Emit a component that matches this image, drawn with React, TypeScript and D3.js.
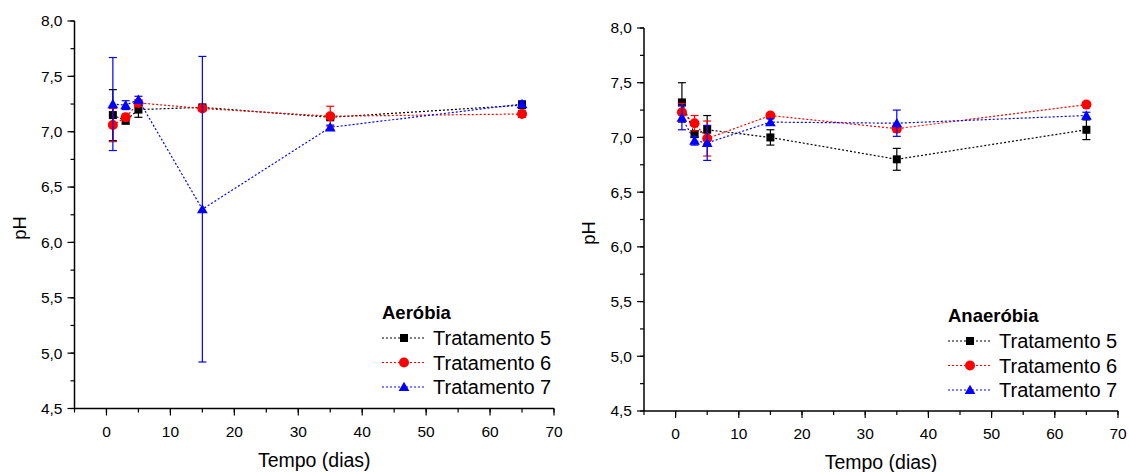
import React from "react";
import * as d3 from "d3";

// Sampling days (shared by both panels)
const DAYS = [1, 3, 5, 15, 35, 65];

// Aeróbia: mean pH and error per treatment
const AER_T5 = [7.15, 7.1, 7.2, 7.22, 7.13, 7.24];
const AER_T5_ERR = [0.23, 0.03, 0.07, 0.02, 0.02, 0.03];
const AER_T6 = [7.06, 7.13, 7.26, 7.21, 7.14, 7.16];
const AER_T6_ERR = [0.15, 0.03, 0.03, 0.02, 0.09, 0.03];
const AER_T7 = [7.25, 7.24, 7.29, 6.3, 7.04, 7.25];
const AER_T7_ERR = [0.42, 0.04, 0.03, 1.38, 0.02, 0.03];

// Anaeróbia: mean pH and error per treatment
const ANA_T5 = [7.32, 7.03, 7.07, 7.0, 6.8, 7.07];
const ANA_T5_ERR = [0.18, 0.03, 0.13, 0.07, 0.1, 0.09];
const ANA_T6 = [7.23, 7.13, 6.99, 7.2, 7.08, 7.3];
const ANA_T6_ERR = [0.08, 0.07, 0.16, 0.02, 0.03, 0.02];
const ANA_T7 = [7.18, 6.97, 6.95, 7.14, 7.13, 7.2];
const ANA_T7_ERR = [0.11, 0.04, 0.16, 0.03, 0.12, 0.03];

const SERIES_NAMES = ["Tratamento 5", "Tratamento 6", "Tratamento 7"];
const SERIES_COLORS = ["#000000", "#ff0000", "#0000ff"];
const SERIES_SHAPES = ["square", "circle", "triangle"];

const X_TICKS = [0, 10, 20, 30, 40, 50, 60, 70];
const X_MINOR = d3.range(-5, 71, 5);
const Y_TICKS = [4.5, 5.0, 5.5, 6.0, 6.5, 7.0, 7.5, 8.0];
const Y_MINOR = d3.range(4.5, 8.01, 0.25);

const FONT = "Arial, 'Liberation Sans', sans-serif";
const fmt = (v: number) => v.toFixed(1).replace(".", ",");

type Series = { values: number[]; errors: number[] };

function Marker({ shape, x, y, color }: { shape: string; x: number; y: number; color: string }) {
  if (shape === "square") return <rect x={x - 4} y={y - 4} width={8} height={8} fill={color} />;
  if (shape === "circle") return <circle cx={x} cy={y} r={5} fill={color} />;
  const tri = d3.symbol().type(d3.symbolTriangle).size(50)();
  return <path d={tri || ""} transform={`translate(${x},${y + 1})`} fill={color} />;
}

function Panel({
  title,
  series,
  x0,
  x1,
  y0,
  y1,
  legendX,
  legendY,
  yLabelX,
  yLabelY,
}: {
  title: string;
  series: Series[];
  x0: number;
  x1: number;
  y0: number;
  y1: number;
  legendX: number;
  legendY: number;
  yLabelX: number;
  yLabelY: number;
}) {
  const x = d3.scaleLinear().domain([-5, 70]).range([x0, x1]);
  const y = d3.scaleLinear().domain([4.5, 8.0]).range([y1, y0]);
  const line = d3
    .line<number>()
    .x((_, i) => x(DAYS[i]))
    .y((v) => y(v));

  return (
    <g fontFamily={FONT}>
      {/* series: error bars, dotted connecting lines, markers */}
      {series.map((s, si) => (
        <g key={si}>
          <path d={line(s.values) || ""} fill="none" stroke={SERIES_COLORS[si]} strokeWidth={1.2} strokeDasharray="2,2" />
          {s.values.map((v, i) => {
            const cx = x(DAYS[i]);
            const top = y(v + s.errors[i]);
            const bot = y(v - s.errors[i]);
            return (
              <g key={i} stroke={SERIES_COLORS[si]} strokeWidth={1.2}>
                <line x1={cx} x2={cx} y1={top} y2={bot} />
                <line x1={cx - 4} x2={cx + 4} y1={top} y2={top} />
                <line x1={cx - 4} x2={cx + 4} y1={bot} y2={bot} />
              </g>
            );
          })}
          {s.values.map((v, i) => (
            <Marker key={i} shape={SERIES_SHAPES[si]} x={x(DAYS[i])} y={y(v)} color={SERIES_COLORS[si]} />
          ))}
        </g>
      ))}

      {/* axes */}
      <line x1={x0} x2={x0} y1={y0} y2={y1} stroke="#000" strokeWidth={1.5} />
      <line x1={x0} x2={x1} y1={y1} y2={y1} stroke="#000" strokeWidth={1.5} />
      {Y_MINOR.map((t) => (
        <line key={"ym" + t} x1={x0 - 4} x2={x0} y1={y(t)} y2={y(t)} stroke="#000" strokeWidth={1.2} />
      ))}
      {Y_TICKS.map((t) => (
        <g key={"y" + t}>
          <line x1={x0 - 7} x2={x0} y1={y(t)} y2={y(t)} stroke="#000" strokeWidth={1.2} />
          <text x={x0 - 12} y={y(t)} dy="0.35em" textAnchor="end" fontSize={15.5} fill="#000">
            {fmt(t)}
          </text>
        </g>
      ))}
      {X_MINOR.map((t) => (
        <line key={"xm" + t} x1={x(t)} x2={x(t)} y1={y1} y2={y1 + 4} stroke="#000" strokeWidth={1.2} />
      ))}
      {X_TICKS.map((t) => (
        <g key={"x" + t}>
          <line x1={x(t)} x2={x(t)} y1={y1} y2={y1 + 7} stroke="#000" strokeWidth={1.2} />
          <text x={x(t)} y={y1 + 28} textAnchor="middle" fontSize={15.5} fill="#000">
            {t}
          </text>
        </g>
      ))}

      {/* axis titles */}
      <text x={(x0 + x1) / 2} y={y1 + 58} textAnchor="middle" fontSize={19.5} fill="#000">
        Tempo (dias)
      </text>
      <text
        transform={`translate(${yLabelX},${yLabelY}) rotate(-90)`}
        textAnchor="middle"
        fontSize={18.5}
        fill="#000"
      >
        pH
      </text>

      {/* legend */}
      <text x={legendX} y={legendY} fontSize={18.5} fontWeight="bold" fill="#000">
        {title}
      </text>
      {SERIES_NAMES.map((name, i) => {
        const ly = legendY + 19 + i * 24.5;
        return (
          <g key={name}>
            <line x1={legendX} x2={legendX + 43} y1={ly} y2={ly} stroke={SERIES_COLORS[i]} strokeWidth={1.2} strokeDasharray="2,2" />
            <Marker shape={SERIES_SHAPES[i]} x={legendX + 22} y={ly} color={SERIES_COLORS[i]} />
            <text x={legendX + 51} y={ly} dy="0.35em" fontSize={20} fill="#000">
              {name}
            </text>
          </g>
        );
      })}
    </g>
  );
}

export default function App() {
  const aer: Series[] = [
    { values: AER_T5, errors: AER_T5_ERR },
    { values: AER_T6, errors: AER_T6_ERR },
    { values: AER_T7, errors: AER_T7_ERR },
  ];
  const ana: Series[] = [
    { values: ANA_T5, errors: ANA_T5_ERR },
    { values: ANA_T6, errors: ANA_T6_ERR },
    { values: ANA_T7, errors: ANA_T7_ERR },
  ];
  return (
    <svg
      width={1129}
      height={472}
      style={{ position: "absolute", left: 0, top: 0, background: "#fff" }}
    >
      <rect width={1129} height={472} fill="#fff" />
      <Panel
        title="Aeróbia"
        series={aer}
        x0={74.5}
        x1={554}
        y0={21}
        y1={408.5}
        legendX={382}
        legendY={319}
        yLabelX={26}
        yLabelY={228}
      />
      <Panel
        title="Anaeróbia"
        series={ana}
        x0={644}
        x1={1118}
        y0={28}
        y1={411}
        legendX={948}
        legendY={322}
        yLabelX={595}
        yLabelY={233}
      />
    </svg>
  );
}
